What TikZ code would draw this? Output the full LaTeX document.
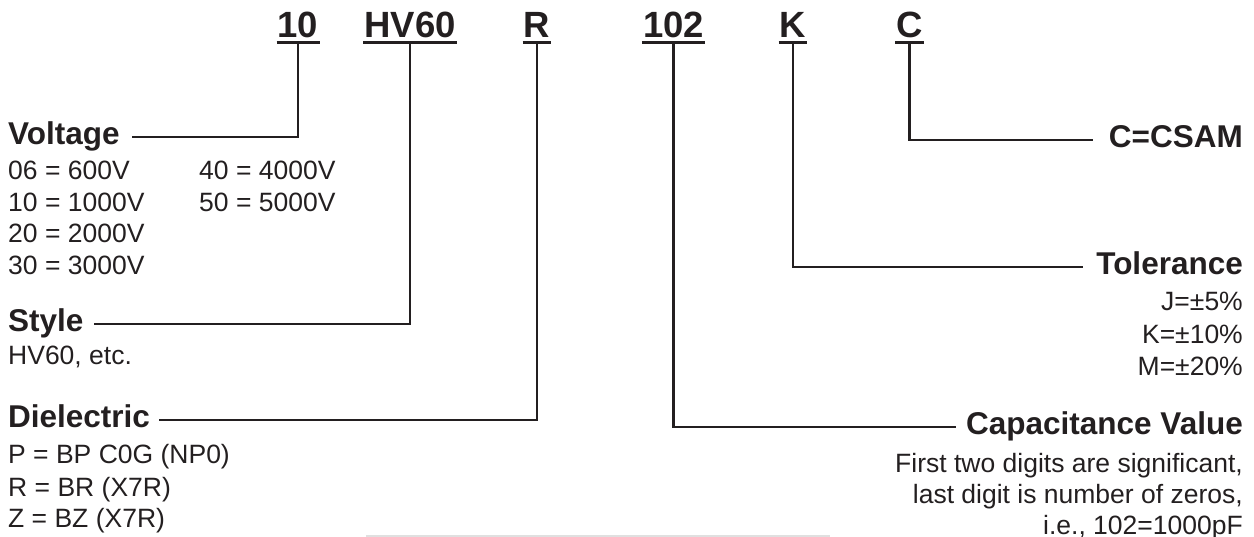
\documentclass[tikz,border=0pt]{standalone}
\usepackage{fontspec}
\setmainfont{Liberation Sans}
\definecolor{ink}{HTML}{231F20}
\begin{document}
\begin{tikzpicture}[x=1pt,y=-1pt,
  code/.style={font=\fontsize{36.5}{40}\selectfont\bfseries, inner sep=0pt, anchor=base, text depth=0pt, text=ink},
  head/.style={font=\fontsize{31.5}{36}\selectfont\bfseries, inner sep=0pt, text=ink},
  body/.style={font=\fontsize{26.5}{31}\selectfont, inner sep=0pt, text=ink},
  conn/.style={draw=ink, line width=2.3pt},
  uline/.style={draw=ink, line width=3pt}]
\useasboundingbox (0,0) rectangle (1254,537);
% codes
\node[code] (c10) at (298,38) {10};
\node[code] (chv) at (410,38) {HV60};
\node[code] (cr) at (537,38) {R};
\node[code] (c102) at (673.5,38) {102};
\node[code] (ck) at (793,38) {K};
\node[code] (cc) at (909.5,38) {C};
\foreach \n in {c10,chv,cr,c102,ck,cc}{
  \draw[uline] ([xshift=-1pt,yshift=-5pt]\n.base west) -- ([xshift=1pt,yshift=-5pt]\n.base east);
}
% left headings
\node[head, anchor=base west] (vol) at (8,145) {Voltage};
\node[body, anchor=base west] (v06) at (8,180) {06 = 600V};
\node[body, anchor=base west] (v10) at (8,212) {10 = 1000V};
\node[body, anchor=base west] (v20) at (8,243) {20 = 2000V};
\node[body, anchor=base west] (v30) at (8,275) {30 = 3000V};
\node[body, anchor=base west] (v40) at (199,180) {40 = 4000V};
\node[body, anchor=base west] (v50) at (199,212) {50 = 5000V};
\node[head, anchor=base west] (sty) at (8,332) {Style};
\node[body, anchor=base west] (s1) at (8,365) {HV60, etc.};
\node[head, anchor=base west] (die) at (8,428) {Dielectric};
\node[body, anchor=base west] (d1) at (8,464) {P = BP C0G (NP0)};
\node[body, anchor=base west] (d2) at (8,496) {R = BR (X7R)};
\node[body, anchor=base west] (d3) at (8,527) {Z = BZ (X7R)};
% right headings
\node[head, anchor=base east] (csam) at (1243,148) {C=CSAM};
\node[head, anchor=base east] (tol) at (1243,275) {Tolerance};
\node[body, anchor=base east] (t1) at (1243,311) {J=±5\%};
\node[body, anchor=base east] (t2) at (1243,344) {K=±10\%};
\node[body, anchor=base east] (t3) at (1243,376) {M=±20\%};
\node[head, anchor=base east] (cap) at (1243,435) {Capacitance Value};
\node[body, anchor=base east] (cv1) at (1243,472) {First two digits are significant,};
\node[body, anchor=base east] (cv2) at (1243,503) {last digit is number of zeros,};
\node[body, anchor=base east] (cv3) at (1243,534) {i.e., 102=1000pF};
% connectors
\draw[conn] ([yshift=-5pt]c10.base) |- ([xshift=12pt,yshift=8pt]vol.base east);
\draw[conn] ([yshift=-5pt]chv.base) |- ([xshift=10pt,yshift=8pt]sty.base east);
\draw[conn] ([yshift=-5pt]cr.base) |- ([xshift=9pt,yshift=8pt]die.base east);
\draw[conn] ([yshift=-5pt]c102.base) |- ([xshift=-10pt,yshift=8pt]cap.base west);
\draw[conn] ([yshift=-5pt]ck.base) |- ([xshift=-13pt,yshift=8pt]tol.base west);
\draw[conn] ([yshift=-5pt]cc.base) |- ([xshift=-16pt,yshift=8pt]csam.base west);
% faint line at bottom
\coordinate (fa) at (366,536);
\coordinate (fb) at (830,536);
\draw[black!12, line width=1.2pt] (fa) -- (fb);
\end{tikzpicture}
\end{document}
